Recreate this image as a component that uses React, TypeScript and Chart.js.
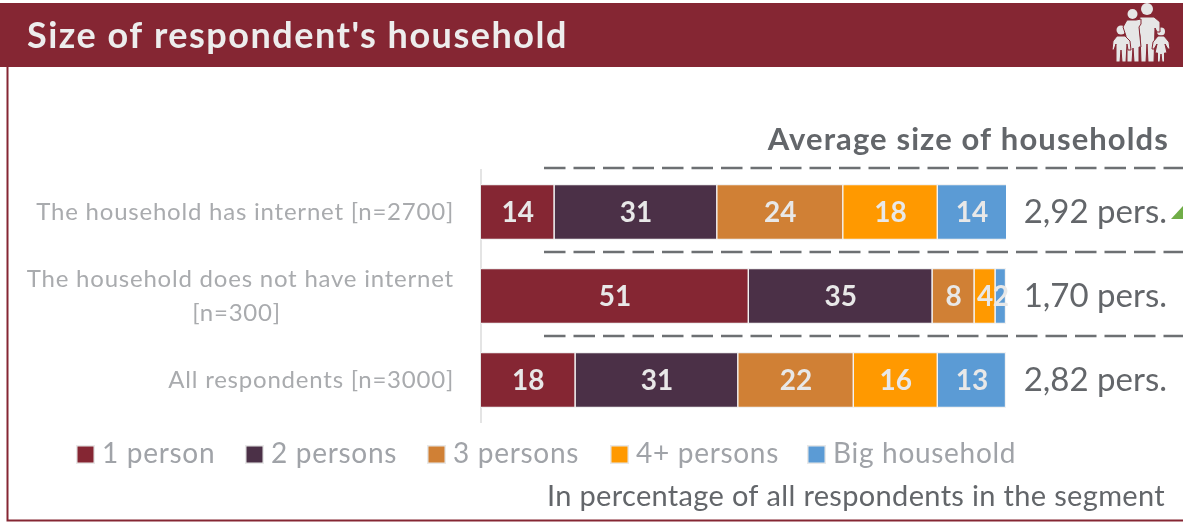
import React, { useEffect, useRef } from "react";
import { Chart, registerables } from "chart.js";

Chart.register(...registerables);

const titleText = "Size of respondent's household";
const averageHeading = "Average size of households";
const footnote = "In percentage of all respondents in the segment";

const categories = [
  "The household has internet [n=2700]",
  "The household does not have internet|[n=300]",
  "All respondents [n=3000]",
];
const seriesNames = ["1 person", "2 persons", "3 persons", "4+ persons", "Big household"];
const onePerson = [14, 51, 18];
const twoPersons = [31, 35, 31];
const threePersons = [24, 8, 22];
const fourPlusPersons = [18, 4, 16];
const bigHousehold = [14, 2, 13];
const averageSizes = ["2,92 pers.", "1,70 pers.", "2,82 pers."];
const seriesColors = ["#852633", "#4B3047", "#D08035", "#FF9900", "#5B9BD5"];
const legendBoxLefts = [76, 245, 427, 610, 807];

const FONT = "Lato, Carlito, 'Open Sans', sans-serif";
const MAROON = "#852633";
const SLATE = "#63666A";

function drawFamilyIcon(ctx: CanvasRenderingContext2D) {
  ctx.save();
  ctx.fillStyle = "#E6E6E6";
  ctx.strokeStyle = MAROON;
  ctx.lineWidth = 1;
  const head = (x: number, y: number, r: number) => {
    ctx.beginPath();
    ctx.arc(x, y, r, 0, Math.PI * 2);
    ctx.fill();
  };
  const shape = (pts: number[][]) => {
    ctx.beginPath();
    pts.forEach(([x, y], i) => (i ? ctx.lineTo(x, y) : ctx.moveTo(x, y)));
    ctx.closePath();
    ctx.fill();
    ctx.stroke();
  };
  head(1147, 9, 6);
  head(1132.5, 14, 5);
  head(1121, 30, 4.5);
  head(1161, 31.5, 4);
  // father
  shape([[1140, 17], [1154, 17], [1160, 22], [1160, 32], [1157, 32], [1155, 28], [1154, 62], [1148, 62], [1147, 44], [1146, 62], [1141, 62], [1140, 36], [1138, 24]]);
  // mother
  shape([[1127, 20], [1136, 20], [1141, 19], [1141, 24], [1139, 27], [1141, 47], [1139, 47], [1139, 62], [1134, 62], [1133, 48], [1132, 62], [1127, 62], [1127, 47], [1125, 47], [1126, 36], [1123, 27]]);
  // boy
  shape([[1117, 36], [1125, 36], [1130, 41], [1131, 50], [1128, 50], [1127, 44], [1126, 62], [1122, 62], [1121, 50], [1120, 62], [1116, 62], [1116, 44], [1114, 50], [1112, 50], [1113, 41]]);
  // girl
  shape([[1158, 36], [1164, 36], [1169, 42], [1170, 49], [1168, 49], [1165, 44], [1167, 53], [1164.5, 53], [1164.5, 62], [1162, 62], [1161, 54], [1160, 62], [1157.5, 62], [1157.5, 53], [1155, 53], [1157, 44], [1154, 49], [1152, 49], [1153, 42]]);
  ctx.restore();
}

// Frame, header band, averages column, legend and the value labels on the bars.
const reportPagePlugin = {
  id: "reportPage",
  beforeDraw(chart: any) {
    const { ctx, width } = chart;
    ctx.save();
    ctx.strokeStyle = MAROON;
    ctx.lineWidth = 2;
    ctx.beginPath();
    ctx.moveTo(7.5, 3);
    ctx.lineTo(7.5, 520.5);
    ctx.lineTo(width, 520.5);
    ctx.stroke();
    ctx.fillStyle = MAROON;
    ctx.fillRect(0, 3, width, 64);
    ctx.fillStyle = "#EDEDED";
    ctx.font = `bold 36px ${FONT}`;
    ctx.letterSpacing = "1.5px";
    ctx.textAlign = "left";
    ctx.textBaseline = "alphabetic";
    ctx.fillText(titleText, 27, 48);
    ctx.restore();
    drawFamilyIcon(ctx);
    // Axis tick labels are drawn next and take this tracking.
    ctx.letterSpacing = "0.78px";
  },
  afterDatasetsDraw(chart: any) {
    const { ctx, chartArea, width } = chart;
    const yScale = chart.scales.y;
    ctx.letterSpacing = "0px";
    ctx.save();

    // Value labels centred on the visible part of each segment.
    ctx.font = `bold 28px ${FONT}`;
    ctx.fillStyle = "#E8E8E8";
    ctx.textAlign = "center";
    ctx.textBaseline = "middle";
    chart.data.datasets.forEach((ds: any, di: number) => {
      chart.getDatasetMeta(di).data.forEach((bar: any, i: number) => {
        const right = Math.min(bar.x, chartArea.right);
        ctx.fillText(String(ds.data[i]), (bar.base + right) / 2, bar.y + 1);
      });
    });

    // Dashed separators above each row.
    ctx.strokeStyle = "#6D7073";
    ctx.lineWidth = 2.5;
    ctx.setLineDash([21.5, 8]);
    categories.forEach((_, i) => {
      const y = Math.round(yScale.getPixelForValue(i) - 44.5);
      ctx.beginPath();
      ctx.moveTo(544, y);
      ctx.lineTo(width, y);
      ctx.stroke();
    });
    ctx.setLineDash([]);

    // Averages column.
    ctx.fillStyle = SLATE;
    ctx.textAlign = "right";
    ctx.textBaseline = "alphabetic";
    ctx.font = `bold 31px ${FONT}`;
    ctx.letterSpacing = "1.1px";
    ctx.fillText(averageHeading, 1169, 150);
    ctx.letterSpacing = "0px";
    ctx.font = `33px ${FONT}`;
    averageSizes.forEach((text, i) => {
      ctx.fillText(text, 1167, yScale.getPixelForValue(i) + 11);
    });

    // Upward trend marker beside the first average.
    ctx.fillStyle = "#70AD47";
    ctx.beginPath();
    ctx.moveTo(1171, 219);
    ctx.lineTo(1184, 205);
    ctx.lineTo(1197, 219);
    ctx.closePath();
    ctx.fill();

    // Legend row.
    ctx.textAlign = "left";
    ctx.font = `28px ${FONT}`;
    ctx.letterSpacing = "0.7px";
    seriesNames.forEach((name, i) => {
      const x = legendBoxLefts[i];
      ctx.fillStyle = "#E8E8E8";
      ctx.fillRect(x, 445, 19, 19);
      ctx.fillStyle = seriesColors[i];
      ctx.fillRect(x + 1.5, 446.5, 16, 16);
      ctx.fillStyle = "#A0A3A8";
      ctx.fillText(name, x + 26, 463);
    });

    ctx.fillStyle = SLATE;
    ctx.textAlign = "right";
    ctx.font = `29px ${FONT}`;
    ctx.letterSpacing = "0.33px";
    ctx.fillText(footnote, 1165, 506);
    ctx.restore();
  },
};

export default function App() {
  const canvasRef = useRef<HTMLCanvasElement>(null);

  useEffect(() => {
    document.body.style.overflow = "hidden";
    const values = [onePerson, twoPersons, threePersons, fourPlusPersons, bigHousehold];
    const chart = new Chart(canvasRef.current!, {
      type: "bar",
      data: {
        labels: categories,
        datasets: seriesNames.map((label, i) => ({
          label,
          data: values[i],
          backgroundColor: seriesColors[i],
          borderColor: "#F2F2F2",
          borderWidth: 1.5,
          barThickness: 56,
        })),
      },
      options: {
        indexAxis: "y",
        responsive: false,
        animation: false,
        layout: { padding: { top: 170, bottom: 100, right: 177, left: 0 } },
        plugins: { legend: { display: false }, title: { display: false }, tooltip: { enabled: false } },
        scales: {
          x: { stacked: true, min: 0, max: 100, display: false },
          y: {
            stacked: true,
            afterFit: (scale: any) => {
              scale.width = 481;
            },
            grid: { display: false, drawTicks: false },
            border: { display: true, color: "#E4E4E4", width: 2 },
            ticks: {
              color: "#A9ABAE",
              padding: 27,
              autoSkip: false,
              font: { family: FONT, size: 24, lineHeight: 1.42 },
              callback: (value: any) => {
                const parts = categories[value].split("|");
                if (parts.length === 1) return parts[0];
                // second line sits centred under the first
                return [parts[0], parts[1] + "\u00a0".repeat(25)];
              },
            },
          },
        },
      },
      plugins: [reportPagePlugin],
    } as any);
    return () => chart.destroy();
  }, []);

  return (
    <div style={{ position: "absolute", left: 0, top: 0, width: 1183, height: 522 }}>
      <canvas ref={canvasRef} width={1183} height={522} style={{ display: "block" }} />
    </div>
  );
}
